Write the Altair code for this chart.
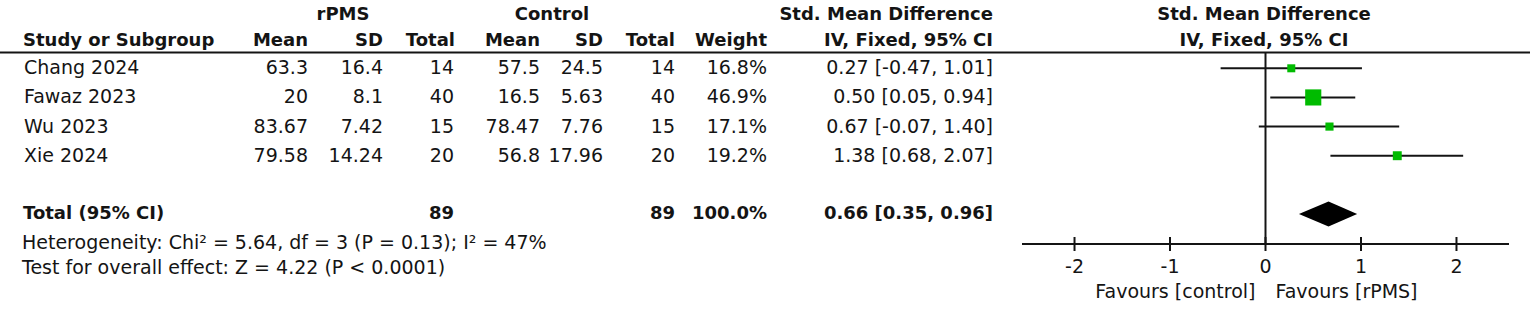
import altair as alt
import pandas as pd

# ---------------- data ----------------
studies = ["Chang 2024", "Fawaz 2023", "Wu 2023", "Xie 2024"]
rpms_mean = [63.3, 20, 83.67, 79.58]
rpms_sd = [16.4, 8.1, 7.42, 14.24]
rpms_total = [14, 40, 15, 20]
ctrl_mean = [57.5, 16.5, 78.47, 56.8]
ctrl_sd = [24.5, 5.63, 7.76, 17.96]
ctrl_total = [14, 40, 15, 20]
weight = [16.8, 46.9, 17.1, 19.2]
smd = [0.27, 0.50, 0.67, 1.38]
ci_low = [-0.47, 0.05, -0.07, 0.68]
ci_high = [1.01, 0.94, 1.40, 2.07]

total_label = "Total (95% CI)"
total_rpms = 89
total_ctrl = 89
total_weight = "100.0%"
total_smd = 0.66
total_low = 0.35
total_high = 0.96

heterogeneity_text = "Heterogeneity: Chi\u00b2 = 5.64, df = 3 (P = 0.13); I\u00b2 = 47%"
overall_text = "Test for overall effect: Z = 4.22 (P < 0.0001)"

tick_values = [-2, -1, 0, 1, 2]
tick_labels = ["-2", "-1", "0", "1", "2"]
favours_left = "Favours [control]"
favours_right = "Favours [rPMS]"

# ---------------- layout / style ----------------
W, H_PLOT, PAD_BOTTOM = 1535, 244, 65
FONT = "DejaVu Sans"
FS = 19
FS_B = 18
INK = "#141414"
GREEN = "#00bb00"
XMIN, XMAX = -2.55, 2.55
TOTAL_ROW = 5
DIAMOND_HALF = 0.43

xscale = alt.Scale(domain=[XMIN, XMAX], range=[1022, 1509], nice=False, zero=False)
yscale = alt.Scale(domain=[0, TOTAL_ROW], range=[68.3, 214], nice=False, zero=False)

def fmt_ci(m, lo, hi):
    return f"{m:.2f} [{lo:.2f}, {hi:.2f}]"

df = pd.DataFrame({
    "study": studies,
    "row": list(range(len(studies))),
    "m1": [str(v) for v in rpms_mean],
    "s1": [str(v) for v in rpms_sd],
    "n1": [str(v) for v in rpms_total],
    "m2": [str(v) for v in ctrl_mean],
    "s2": [str(v) for v in ctrl_sd],
    "n2": [str(v) for v in ctrl_total],
    "w": weight,
    "wtxt": [f"{v:.1f}%" for v in weight],
    "smd": smd,
    "lo": ci_low,
    "hi": ci_high,
    "ci": [fmt_ci(m, l, h) for m, l, h in zip(smd, ci_low, ci_high)],
})

one = pd.DataFrame({"k": [0]})

Y = alt.Y("row:Q", scale=yscale, axis=None)

layers = []

# table body columns
cols = [("study", 24, "left"), ("m1", 308, "right"), ("s1", 383, "right"),
        ("n1", 454, "right"), ("m2", 540, "right"), ("s2", 603, "right"),
        ("n2", 675, "right"), ("wtxt", 767, "right"), ("ci", 993, "right")]
for field, xpos, al in cols:
    layers.append(
        alt.Chart(df).mark_text(align=al, baseline="middle", font=FONT, fontSize=FS, color=INK)
        .encode(x=alt.value(xpos), y=Y, text=f"{field}:N")
    )

def label(text, xpos, ypos, al="left", bold=False, size=None):
    return alt.Chart(one).mark_text(
        text=text, align=al, baseline="middle", font=FONT,
        fontSize=size or (FS_B if bold else FS),
        fontWeight="bold" if bold else "normal", color=INK,
    ).encode(x=alt.value(xpos), y=alt.value(ypos))

# headers
layers += [
    label("rPMS", 343, 15, "center", True),
    label("Control", 552, 15, "center", True),
    label("Std. Mean Difference", 993, 15, "right", True),
    label("Std. Mean Difference", 1264, 15, "center", True),
    label("Study or Subgroup", 23, 41, "left", True),
    label("Mean", 308, 41, "right", True),
    label("SD", 383, 41, "right", True),
    label("Total", 455, 41, "right", True),
    label("Mean", 540, 41, "right", True),
    label("SD", 603, 41, "right", True),
    label("Total", 675, 41, "right", True),
    label("Weight", 767, 41, "right", True),
    label("IV, Fixed, 95% CI", 993, 41, "right", True),
    label("IV, Fixed, 95% CI", 1264, 41, "center", True),
]

# header underline
layers.append(
    alt.Chart(one).mark_rule(color=INK, strokeWidth=2)
    .encode(x=alt.value(0), x2=alt.value(1530), y=alt.value(52.5))
)

# total row
tot = pd.DataFrame({"row": [TOTAL_ROW], "lab": [total_label], "n1": [str(total_rpms)],
                    "n2": [str(total_ctrl)], "w": [total_weight],
                    "ci": [fmt_ci(total_smd, total_low, total_high)]})
for field, xpos, al in [("lab", 23, "left"), ("n1", 454, "right"), ("n2", 675, "right"),
                        ("w", 767, "right"), ("ci", 993, "right")]:
    layers.append(
        alt.Chart(tot).mark_text(align=al, baseline="middle", font=FONT, fontSize=FS_B,
                                 fontWeight="bold", color=INK)
        .encode(x=alt.value(xpos), y=Y, text=f"{field}:N")
    )

# footer
layers += [
    label(heterogeneity_text, 22, 243),
    label(overall_text, 22, 268),
]

# forest plot: zero line
layers.append(
    alt.Chart(one).mark_rule(color=INK, strokeWidth=2)
    .encode(x=alt.X("z:Q", scale=xscale, axis=None), y=alt.value(53), y2=alt.value(H_PLOT))
    .transform_calculate(z="0")
)

# CI lines
layers.append(
    alt.Chart(df).mark_rule(color=INK, strokeWidth=2)
    .encode(x=alt.X("lo:Q", scale=xscale, axis=None), x2="hi:Q", y=Y)
)

# squares
layers.append(
    alt.Chart(df).mark_square(color=GREEN, opacity=1)
    .encode(
        x=alt.X("smd:Q", scale=xscale, axis=None), y=Y,
        size=alt.Size("w:Q", scale=alt.Scale(domain=[10, 46.9], range=[20, 260], zero=False),
                      legend=None),
    )
)

# diamond
dia = pd.DataFrame({
    "x": [total_low, total_smd, total_high],
    "ya": [TOTAL_ROW, TOTAL_ROW - DIAMOND_HALF, TOTAL_ROW],
    "yb": [TOTAL_ROW, TOTAL_ROW + DIAMOND_HALF, TOTAL_ROW],
})
layers.append(
    alt.Chart(dia).mark_area(color="#000000", opacity=1)
    .encode(x=alt.X("x:Q", scale=xscale, axis=None),
            y=alt.Y("ya:Q", scale=yscale, axis=None), y2="yb:Q")
)

# axis
layers.append(
    alt.Chart(pd.DataFrame({"a": [XMIN], "b": [XMAX]})).mark_rule(color=INK, strokeWidth=2)
    .encode(x=alt.X("a:Q", scale=xscale, axis=None), x2="b:Q", y=alt.value(H_PLOT))
)
ticks = pd.DataFrame({"v": tick_values, "lab": tick_labels})
layers.append(
    alt.Chart(ticks).mark_rule(color=INK, strokeWidth=2)
    .encode(x=alt.X("v:Q", scale=xscale, axis=None), y=alt.value(237), y2=alt.value(251))
)
layers.append(
    alt.Chart(ticks).mark_text(baseline="middle", align="center", font=FONT, fontSize=FS, color=INK)
    .encode(x=alt.X("v:Q", scale=xscale, axis=None), y=alt.value(267), text="lab:N")
)

fav = pd.DataFrame({"z": [0, 0], "lab": [favours_left, favours_right]})
layers.append(
    alt.Chart(fav).transform_filter("datum.lab == '" + favours_left + "'")
    .mark_text(baseline="middle", align="right", dx=-10, font=FONT, fontSize=FS, color=INK)
    .encode(x=alt.X("z:Q", scale=xscale, axis=None), y=alt.value(292), text="lab:N")
)
layers.append(
    alt.Chart(fav).transform_filter("datum.lab == '" + favours_right + "'")
    .mark_text(baseline="middle", align="left", dx=10, font=FONT, fontSize=FS, color=INK)
    .encode(x=alt.X("z:Q", scale=xscale, axis=None), y=alt.value(292), text="lab:N")
)

chart = (
    alt.layer(*layers)
    .properties(width=W, height=H_PLOT, autosize=alt.AutoSizeParams(type="none"),
                padding={"left": 0, "top": 0, "right": 0, "bottom": PAD_BOTTOM},
                background="white")
    .configure_view(stroke=None)
)

chart.save("out.html", embed_options={"renderer": "svg", "actions": False})
